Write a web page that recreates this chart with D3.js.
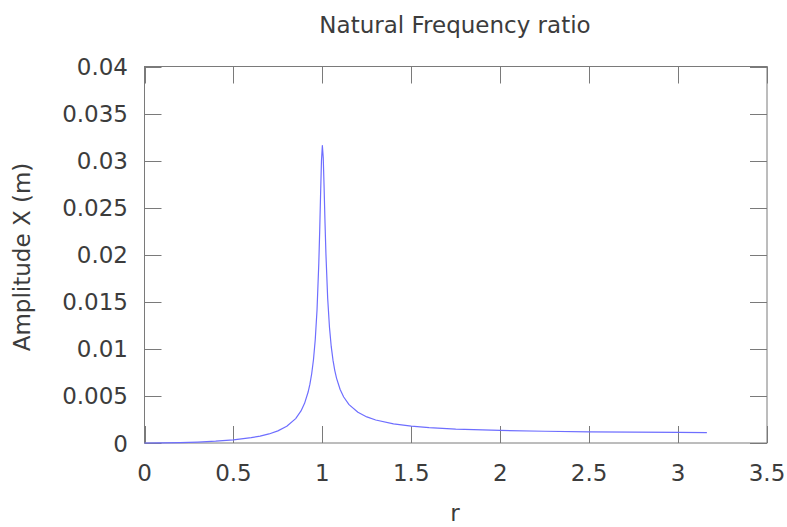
<!DOCTYPE html>
<html>
<head>
<meta charset="utf-8">
<script src="https://cdn.jsdelivr.net/npm/d3@7"></script>
<style>
  html, body { margin: 0; padding: 0; background: #fff; }
  svg { display: block; font-family: "DejaVu Sans", sans-serif; }
</style>
</head>
<body>
<div id="chart"></div>
<script>
// ---------------------------------------------------------
// data
// ---------------------------------------------------------
const rValues = [
  0, 0.1, 0.2, 0.3, 0.4, 0.5, 0.6, 0.65, 0.7, 0.75, 0.8, 0.85, 0.88, 0.9,
  0.92, 0.93, 0.94, 0.95, 0.96, 0.97, 0.98, 0.985, 0.99, 0.995, 1.0, 1.005,
  1.01, 1.015, 1.02, 1.03, 1.04, 1.05, 1.06, 1.07, 1.08, 1.1, 1.12, 1.15,
  1.2, 1.25, 1.3, 1.4, 1.5, 1.6, 1.75, 2.0, 2.25, 2.5, 2.75, 3.0, 3.162
];
const amplitude = [
  0, 0.0000101, 0.0000417, 0.0000989, 0.000190, 0.000333, 0.000563, 0.000732,
  0.000961, 0.001286, 0.001773, 0.002591, 0.003407, 0.004216, 0.005414,
  0.006255, 0.007355, 0.008846, 0.010962, 0.014129, 0.019097, 0.022511,
  0.026412, 0.029980, 0.031606, 0.030296, 0.027023, 0.023363, 0.020123,
  0.015360, 0.012293, 0.010232, 0.008773, 0.007694, 0.006866, 0.005684,
  0.004884, 0.004075, 0.003261, 0.002771, 0.002445, 0.002040, 0.001799,
  0.001640, 0.001484, 0.001333, 0.001246, 0.001190, 0.001152, 0.001125,
  0.001111
];
const xTicks = [0, 0.5, 1, 1.5, 2, 2.5, 3, 3.5];
const yTicks = [0, 0.005, 0.01, 0.015, 0.02, 0.025, 0.03, 0.035, 0.04];
const xTickLabels = ["0", "0.5", "1", "1.5", "2", "2.5", "3", "3.5"];
const yTickLabels = ["0", "0.005", "0.01", "0.015", "0.02", "0.025", "0.03", "0.035", "0.04"];

const titleText = "Natural Frequency ratio";
const xLabelText = "r";
const yLabelText = "Amplitude X (m)";

// ---------------------------------------------------------
// layout
// ---------------------------------------------------------
const width = 787, height = 527;
const margin = { left: 144.5, right: 20, top: 66.5, bottom: 84 };
const tickLen = 17;
const textColor = "#3c3c3c";
const frameColor = "#7a7a7a";

const svg = d3.select("#chart").append("svg")
    .attr("width", width)
    .attr("height", height);

const x = d3.scaleLinear().domain([0, 3.5]).range([margin.left, width - margin.right]);
const y = d3.scaleLinear().domain([0, 0.04]).range([height - margin.bottom, margin.top]);

const [x0, x1] = x.range();
const [y0, y1] = y.range();

// ticks (inward, on all four sides)
const tickG = svg.append("g")
    .attr("stroke", frameColor)
    .attr("stroke-width", 1);

xTicks.forEach(t => {
  const px = Math.round(x(t)) + 0.5;
  tickG.append("line").attr("x1", px).attr("x2", px).attr("y1", y0).attr("y2", y0 - tickLen);
  tickG.append("line").attr("x1", px).attr("x2", px).attr("y1", y1).attr("y2", y1 + tickLen);
});
yTicks.forEach(t => {
  const py = Math.round(y(t)) + 0.5;
  tickG.append("line").attr("x1", x0).attr("x2", x0 + tickLen).attr("y1", py).attr("y2", py);
  tickG.append("line").attr("x1", x1).attr("x2", x1 - tickLen).attr("y1", py).attr("y2", py);
});

// frame
svg.append("rect")
    .attr("x", x0)
    .attr("y", y1)
    .attr("width", x1 - x0)
    .attr("height", y0 - y1)
    .attr("fill", "none")
    .attr("stroke", frameColor)
    .attr("stroke-width", 1);

// tick labels
svg.append("g")
    .selectAll("text")
    .data(xTicks)
    .join("text")
    .attr("x", d => x(d))
    .attr("y", 481)
    .attr("text-anchor", "middle")
    .attr("font-size", 23)
    .attr("fill", textColor)
    .text((d, i) => xTickLabels[i]);

svg.append("g")
    .selectAll("text")
    .data(yTicks)
    .join("text")
    .attr("x", 128)
    .attr("y", d => y(d) + 8.5)
    .attr("text-anchor", "end")
    .attr("font-size", 23)
    .attr("fill", textColor)
    .text((d, i) => yTickLabels[i]);

// the curve
const line = d3.line()
    .x((d, i) => x(rValues[i]))
    .y(d => y(d));

svg.append("path")
    .datum(amplitude)
    .attr("d", line)
    .attr("fill", "none")
    .attr("stroke", "#6e6eff")
    .attr("stroke-width", 1.2)
    .attr("stroke-linejoin", "round");

// title & axis labels
svg.append("text")
    .attr("x", 455)
    .attr("y", 33)
    .attr("text-anchor", "middle")
    .attr("font-size", 23)
    .attr("fill", textColor)
    .text(titleText);

svg.append("text")
    .attr("x", 455)
    .attr("y", 521)
    .attr("text-anchor", "middle")
    .attr("font-size", 23)
    .attr("fill", textColor)
    .text(xLabelText);

svg.append("text")
    .attr("transform", "translate(30,257) rotate(-90)")
    .attr("text-anchor", "middle")
    .attr("font-size", 23)
    .attr("fill", textColor)
    .text(yLabelText);
</script>
</body>
</html>
